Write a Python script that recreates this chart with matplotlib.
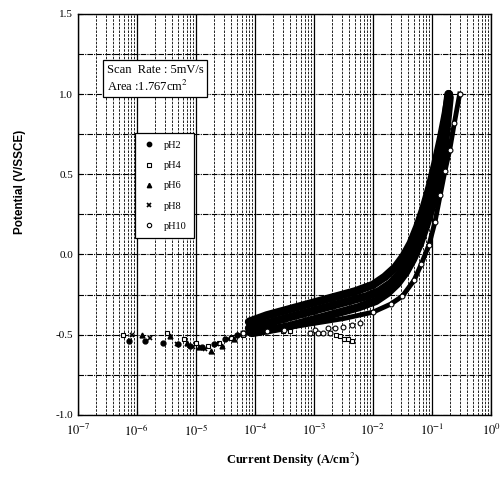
import numpy as np
import matplotlib
matplotlib.use('Agg')
import matplotlib.pyplot as plt
from matplotlib.ticker import LogLocator, FixedLocator, NullFormatter

plt.rcParams['font.family'] = ['Liberation Serif', 'DejaVu Serif']
plt.rcParams['mathtext.fontset'] = 'stix'

# log10 of current density (A/cm2) and potential (V/SSCE)
log_i_ph2 = [-6.14, -5.86, -5.56, -5.3, -5.1, -4.9, -4.7, -4.5, -4.3, -4.1, -3.8, -3.5, -3.2,
             -2.9, -2.6, -2.3, -2.0, -1.8, -1.62, -1.48, -1.36, -1.25, -1.14, -1.04, -0.94,
             -0.85, -0.77, -0.71]
e_ph2 = [-0.54, -0.54, -0.55, -0.56, -0.57, -0.58, -0.56, -0.53, -0.50, -0.42, -0.38, -0.35,
         -0.32, -0.29, -0.26, -0.23, -0.19, -0.14, -0.08, -0.01, 0.07, 0.17, 0.29, 0.42,
         0.57, 0.72, 0.87, 1.0]

log_i_ph4 = [-6.24, -5.49, -5.2, -5.0, -4.8, -4.6, -4.4, -4.2, -3.53, -3.41, -2.63, -2.56,
             -2.49, -2.42, -2.36]
e_ph4 = [-0.50, -0.49, -0.53, -0.55, -0.57, -0.55, -0.52, -0.50, -0.476, -0.48, -0.50, -0.51,
         -0.525, -0.53, -0.54]

log_i_ph6 = [-5.92, -5.44, -5.15, -4.95, -4.75, -4.55, -4.35, -4.1, -3.8, -3.5, -3.2, -3.0,
             -2.7, -2.4, -2.1, -1.9, -1.7, -1.55, -1.42, -1.3, -1.2, -1.1, -1.0, -0.9, -0.8,
             -0.72]
e_ph6 = [-0.50, -0.51, -0.55, -0.58, -0.60, -0.57, -0.53, -0.46, -0.43, -0.40, -0.37, -0.35,
         -0.32, -0.29, -0.26, -0.23, -0.18, -0.12, -0.05, 0.05, 0.15, 0.27, 0.40, 0.56, 0.75,
         1.0]

log_i_ph8 = [-6.08, -5.78, -5.32, -5.05, -4.85, -4.65, -4.45, -4.25, -4.05, -3.75, -3.45,
             -3.15, -2.85, -2.55, -2.25, -1.95, -1.75, -1.58, -1.44, -1.32, -1.2, -1.09, -0.98,
             -0.88, -0.79, -0.70]
e_ph8 = [-0.50, -0.52, -0.56, -0.58, -0.59, -0.56, -0.53, -0.50, -0.49, -0.47, -0.45, -0.42,
         -0.39, -0.36, -0.33, -0.29, -0.24, -0.18, -0.11, -0.03, 0.07, 0.19, 0.32, 0.47, 0.65,
         0.98]

log_i_ph10 = [-4.2, -3.8, -3.5, -3.07, -2.98, -2.93, -2.85, -2.76, -2.73, -2.64, -2.5, -2.36,
              -2.22, -2.0, -1.7, -1.5, -1.3, -1.18, -1.05, -0.95, -0.86, -0.78, -0.7, -0.62,
              -0.53]
e_ph10 = [-0.49, -0.48, -0.47, -0.49, -0.47, -0.49, -0.49, -0.46, -0.49, -0.46, -0.45, -0.44,
          -0.43, -0.36, -0.31, -0.26, -0.16, -0.06, 0.06, 0.20, 0.37, 0.52, 0.65, 0.82, 1.0]

curve_ph10_log_i = [-4.2, -3.8, -3.5, -3.0, -2.5, -2.0, -1.7, -1.5, -1.3, -1.18, -1.05, -0.95,
                    -0.86, -0.78, -0.7, -0.62, -0.53]
curve_ph10_e = [-0.49, -0.48, -0.46, -0.43, -0.40, -0.36, -0.31, -0.26, -0.16, -0.06, 0.06,
                0.20, 0.37, 0.52, 0.65, 0.82, 1.0]

labels = ['pH2', 'pH4', 'pH6', 'pH8', 'pH10']
y_ticks = [-1.0, -0.5, 0.0, 0.5, 1.0, 1.5]
x_decades = [-7, -6, -5, -4, -3, -2, -1, 0]

fig = plt.figure(figsize=(5.02, 4.79), dpi=100)
ax = fig.add_axes([0.155, 0.134, 0.823, 0.837])
ax.set_xscale('log')
ax.set_xlim(1e-7, 1.0)
ax.set_ylim(-1.0, 1.5)

# grid
ax.xaxis.set_major_locator(FixedLocator([10.0 ** d for d in x_decades]))
ax.xaxis.set_minor_locator(LogLocator(base=10, subs=np.arange(2, 10)))
ax.xaxis.set_minor_formatter(NullFormatter())
ax.set_xticks([10.0 ** d for d in x_decades])
ax.set_xticklabels(['$10^{%d}$' % d for d in x_decades], fontsize=9)
ax.set_yticks(y_ticks)
ax.set_yticklabels(['%.1f' % v for v in y_ticks], fontsize=8)
ax.set_yticks(np.arange(-1.0, 1.51, 0.25), minor=True)
ax.grid(True, which='major', axis='x', color='black', lw=0.9, ls='-')
ax.grid(True, which='minor', axis='x', color='black', lw=0.6, ls=(0, (3, 1.5)))
ax.grid(True, which='both', axis='y', color='black', lw=0.8, ls=(0, (5, 1, 1, 1)))
ax.tick_params(axis='both', which='both', direction='in', length=3)
ax.tick_params(axis='x', which='major', pad=6)
ax.tick_params(axis='x', which='minor', length=0)
for s in ax.spines.values():
    s.set_linewidth(1.0)

def to_i(log_vals):
    return np.power(10.0, np.array(log_vals))

# thick band of overlapping points
for li, e in [(log_i_ph2, e_ph2), (log_i_ph6, e_ph6), (log_i_ph8, e_ph8)]:
    li = np.array(li)
    e = np.array(e)
    m = li > -4.2
    ax.plot(to_i(li[m]), e[m], color='black', lw=6, solid_capstyle='round', zorder=3)
ax.plot(to_i(curve_ph10_log_i), curve_ph10_e, color='black', lw=3.5, zorder=3)

ms = 3.5
ax.plot(to_i(log_i_ph2), e_ph2, 'o', color='black', ms=ms, ls='none', label=labels[0], zorder=4)
ax.plot(to_i(log_i_ph4), e_ph4, 's', color='black', mfc='white', ms=ms, mew=0.8, ls='none',
        label=labels[1], zorder=4)
ax.plot(to_i(log_i_ph6), e_ph6, '^', color='black', ms=ms, ls='none', label=labels[2], zorder=4)
ax.plot(to_i(log_i_ph8), e_ph8, 'x', color='black', ms=ms, mew=1.2, ls='none', label=labels[3],
        zorder=4)
ax.plot(to_i(log_i_ph10), e_ph10, 'o', color='black', mfc='white', ms=ms, mew=0.8, ls='none',
        label=labels[4], zorder=4)

leg = ax.legend(loc='upper left', bbox_to_anchor=(0.126, 0.715), fontsize=7.5, frameon=True,
                fancybox=False, edgecolor='black', framealpha=1, labelspacing=1.05,
                handletextpad=0.9, borderpad=0.7, markerscale=0.9, handlelength=1.2)
leg.get_frame().set_linewidth(0.9)
leg.set_zorder(6)

ax.text(0.07, 0.875, 'Scan  Rate : 5mV/s\nArea :1.767cm$^2$', transform=ax.transAxes,
        fontsize=9, va='top', ha='left', linespacing=1.2, zorder=6,
        bbox=dict(boxstyle='square,pad=0.3', fc='white', ec='black', lw=0.9))

ax.set_ylabel('Potential (V/SSCE)', fontsize=8.5, fontweight='bold',
              family=['Liberation Sans', 'DejaVu Sans'])
ax.yaxis.set_label_coords(-0.125, 0.58)
ax.set_xlabel('Current Density (A/cm$^2$)', fontsize=9, fontweight='bold')
ax.xaxis.set_label_coords(0.52, -0.09)

fig.savefig('out.png', dpi=100)
